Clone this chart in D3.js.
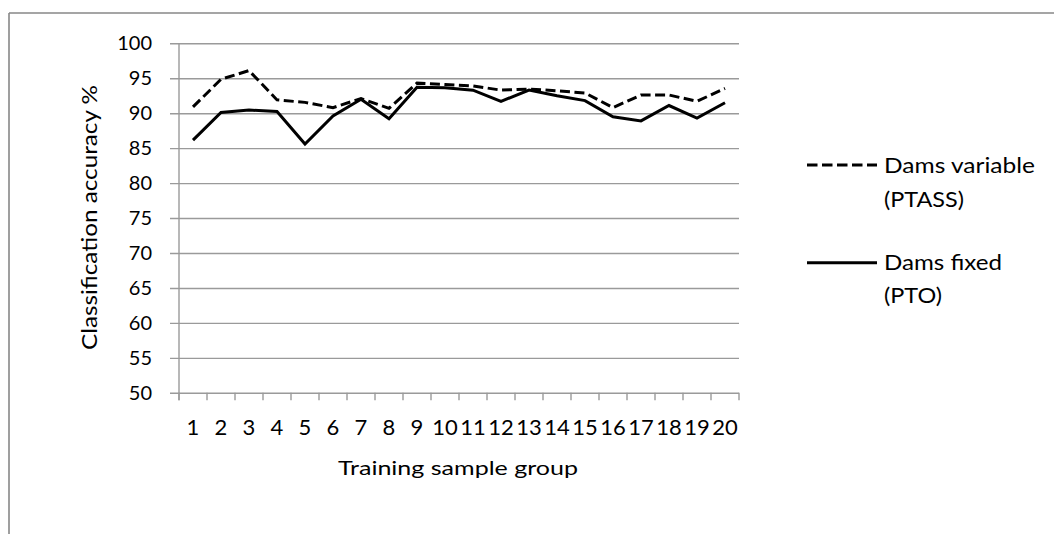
<!DOCTYPE html>
<html>
<head>
<meta charset="utf-8">
<script src="https://cdn.jsdelivr.net/npm/d3@7"></script>
<style>
  html, body { margin: 0; padding: 0; background: #fff; }
  svg { display: block; }
  text { font-family: Lato, "Open Sans", sans-serif; fill: #000; }
</style>
</head>
<body>
<svg id="chart" width="1054" height="534"></svg>
<script>
// Training sample groups 1..20
const groups = d3.range(1, 21).map(String);

// Classification accuracy (%) per group
const damsVariable = [90.9, 94.85, 96.1, 91.9, 91.55, 90.8, 92.1, 90.7, 94.3, 94.1,
                      93.9, 93.3, 93.45, 93.2, 92.9, 90.8, 92.6, 92.6, 91.7, 93.55];
const damsFixed    = [86.15, 90.1, 90.45, 90.25, 85.6, 89.6, 92.0, 89.2, 93.7, 93.65,
                      93.3, 91.7, 93.3, 92.5, 91.8, 89.5, 88.9, 91.1, 89.3, 91.5];

const yTicks = d3.range(50, 101, 5);

const seriesNames = [["Dams variable", "(PTASS)"], ["Dams fixed", "(PTO)"]];

const svg = d3.select("#chart");

// outer frame (top and left edges visible)
svg.append("line").attr("x1", 9).attr("y1", 13).attr("x2", 1054).attr("y2", 13)
  .attr("stroke", "#878787").attr("stroke-width", 1.6);
svg.append("line").attr("x1", 9).attr("y1", 13).attr("x2", 9).attr("y2", 534)
  .attr("stroke", "#878787").attr("stroke-width", 1.6);

const plot = { left: 179, right: 739, top: 43.3, bottom: 392.8 };

const x = d3.scaleBand().domain(groups).range([plot.left, plot.right]).padding(0);
const y = d3.scaleLinear().domain([50, 100]).range([plot.bottom, plot.top]);
const cx = d => x(d) + x.bandwidth() / 2;

// horizontal gridlines + y labels
const yAxis = d3.axisLeft(y).tickValues(yTicks).tickSize(0).tickPadding(27);
const gy = svg.append("g").attr("transform", `translate(${plot.left},0)`).call(yAxis);
gy.select(".domain").remove();
gy.selectAll(".tick line")
  .attr("x1", -9).attr("x2", plot.right - plot.left)
  .attr("stroke", "#9a9a9a").attr("stroke-width", 1.4);
gy.selectAll(".tick text")
  .attr("font-size", 20).attr("font-family", "Lato, sans-serif").attr("fill", "#000");

// vertical axis line
svg.append("line").attr("x1", plot.left).attr("x2", plot.left)
  .attr("y1", plot.top).attr("y2", plot.bottom + 7.5)
  .attr("stroke", "#9a9a9a").attr("stroke-width", 1.4);

// x axis: category boundary ticks
const bounds = groups.map(g => x(g)).concat([plot.right]);
svg.append("g").selectAll("line").data(bounds).join("line")
  .attr("x1", d => d).attr("x2", d => d)
  .attr("y1", plot.bottom).attr("y2", plot.bottom + 7.5)
  .attr("stroke", "#9a9a9a").attr("stroke-width", 1.4);

svg.append("g").selectAll("text").data(groups).join("text")
  .attr("x", d => cx(d)).attr("y", 435.3)
  .attr("text-anchor", "middle").attr("font-size", 22)
  .text(d => d);

// axis titles
svg.append("text")
  .attr("transform", "translate(97,217.5) rotate(-90)")
  .attr("text-anchor", "middle").attr("font-size", 22)
  .attr("textLength", 265).attr("lengthAdjust", "spacingAndGlyphs")
  .text("Classification accuracy %");

svg.append("text")
  .attr("x", 458).attr("y", 474.5)
  .attr("text-anchor", "middle").attr("font-size", 20)
  .attr("textLength", 240).attr("lengthAdjust", "spacingAndGlyphs")
  .text("Training sample group");

// series lines
const line = d3.line().x((d, i) => cx(groups[i])).y(d => y(d));

svg.append("path").datum(damsVariable)
  .attr("d", line).attr("fill", "none")
  .attr("stroke", "#000").attr("stroke-width", 3)
  .attr("stroke-dasharray", "10,4.5");

svg.append("path").datum(damsFixed)
  .attr("d", line).attr("fill", "none")
  .attr("stroke", "#000").attr("stroke-width", 3);

// legend
const legend = [
  { y: 165, dash: "10.5,4.5", label: seriesNames[0], widths: [151, 80], base: 173.3 },
  { y: 262.7, dash: null, label: seriesNames[1], widths: [118, 58], base: 270 }
];
legend.forEach(item => {
  svg.append("line").attr("x1", 807).attr("x2", 877)
    .attr("y1", item.y).attr("y2", item.y)
    .attr("stroke", "#000").attr("stroke-width", 3)
    .attr("stroke-dasharray", item.dash);
  item.label.forEach((t, k) => {
    svg.append("text")
      .attr("x", 884).attr("y", item.base + k * 33.4)
      .attr("font-size", 21)
      .attr("textLength", item.widths[k]).attr("lengthAdjust", "spacingAndGlyphs")
      .text(t);
  });
});
</script>
</body>
</html>
